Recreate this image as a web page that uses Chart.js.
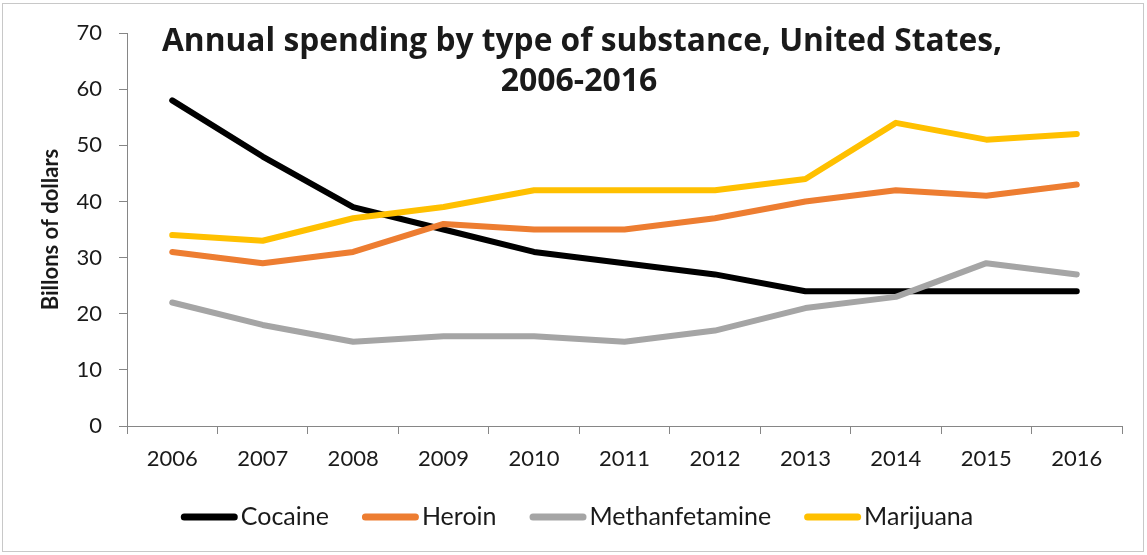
<!DOCTYPE html>
<html>
<head>
<meta charset="utf-8">
<script src="https://cdn.jsdelivr.net/npm/chart.js@4.4.0/dist/chart.umd.min.js"></script>
<style>
  html, body { margin: 0; padding: 0; background: #fff; }
  #wrap { width: 1147px; height: 555px; position: relative; }
</style>
</head>
<body>
<div id="wrap"><canvas id="spendCanvas" width="1147" height="555"></canvas></div>
<script>
// annual spending, billions of dollars
const years = ['2006', '2007', '2008', '2009', '2010', '2011', '2012', '2013', '2014', '2015', '2016'];
const cocaine = [58, 48, 39, 35, 31, 29, 27, 24, 24, 24, 24];
const heroin = [31, 29, 31, 36, 35, 35, 37, 40, 42, 41, 43];
const meth = [22, 18, 15, 16, 16, 15, 17, 21, 23, 29, 27];
const marijuana = [34, 33, 37, 39, 42, 42, 42, 44, 54, 51, 52];

const seriesNames = ['Cocaine', 'Heroin', 'Methanfetamine', 'Marijuana'];
const seriesColors = ['#000000', '#ED7D31', '#A5A5A5', '#FFC000'];
const seriesData = [cocaine, heroin, meth, marijuana];

const titleLines = ['Annual spending by type of substance, United States,', '2006-2016'];
const FONT = 'Lato, Carlito, "Open Sans", sans-serif';
const TITLE_FONT = '"Open Sans", Lato, sans-serif';
const axisColor = '#868686';
const textColor = '#1a1a1a';

// title sits inside the plot area, plus the outer frame
const frameAndTitle = {
  id: 'frameAndTitle',
  afterDraw(chart) {
    const ctx = chart.ctx;
    ctx.save();
    ctx.strokeStyle = '#c8c8c8';
    ctx.lineWidth = 1;
    ctx.strokeRect(2.5, 3.5, 1141, 548);
    ctx.fillStyle = textColor;
    ctx.font = 'bold 32px ' + TITLE_FONT;
    ctx.textAlign = 'center';
    ctx.textBaseline = 'middle';
    ctx.fillText(titleLines[0], 582, 42, 840);
    ctx.fillText(titleLines[1], 579, 82);
    ctx.restore();
  }
};

// legend row under the axis: short thick line + label
const lineLegend = {
  id: 'lineLegend',
  afterDraw(chart) {
    const ctx = chart.ctx;
    const boxW = 57, boxH = 7, gap = 3, itemGap = 33, cy = 517;
    ctx.save();
    ctx.font = '25px ' + FONT;
    ctx.textBaseline = 'middle';
    ctx.textAlign = 'left';
    const widths = seriesNames.map(n => ctx.measureText(n).width);
    const total = widths.reduce((a, w) => a + boxW + gap + w, 0) + itemGap * (seriesNames.length - 1);
    let x = 577 - total / 2;
    seriesNames.forEach((name, i) => {
      ctx.strokeStyle = seriesColors[i];
      ctx.lineWidth = boxH;
      ctx.lineCap = 'round';
      ctx.beginPath();
      ctx.moveTo(x + boxH / 2, cy);
      ctx.lineTo(x + boxW - boxH / 2, cy);
      ctx.stroke();
      x += boxW + gap;
      ctx.fillStyle = textColor;
      ctx.fillText(name, x, cy);
      x += widths[i] + itemGap;
    });
    ctx.restore();
  }
};

const ctxSpend = document.getElementById('spendCanvas').getContext('2d');
new Chart(ctxSpend, {
  type: 'line',
  data: {
    labels: years,
    datasets: seriesNames.map((name, i) => ({
      label: name,
      data: seriesData[i],
      borderColor: seriesColors[i],
      backgroundColor: seriesColors[i],
      borderWidth: 6,
      borderCapStyle: 'round',
      borderJoinStyle: 'round',
      pointRadius: 0,
      tension: 0,
      order: seriesNames.length - i
    }))
  },
  options: {
    responsive: false,
    animation: false,
    layout: { padding: { left: 38, right: 25, top: 33, bottom: 0 } },
    plugins: {
      legend: { display: false },
      title: { display: false },
      tooltip: { enabled: false }
    },
    scales: {
      x: {
        offset: true,
        grid: { offset: true, drawOnChartArea: false, drawTicks: true, tickLength: 8, color: axisColor },
        border: { color: axisColor, width: 1 },
        ticks: { color: textColor, font: { family: FONT, size: 22 }, padding: 12, maxRotation: 0 },
        afterFit(scale) { scale.height = 129; }
      },
      y: {
        min: 0,
        max: 70,
        ticks: { stepSize: 10, color: textColor, font: { family: FONT, size: 22 }, padding: 17 },
        grid: { drawOnChartArea: false, drawTicks: true, tickLength: 8, color: axisColor },
        border: { color: axisColor, width: 1 },
        title: {
          display: true,
          text: 'Billons of dollars',
          color: textColor,
          font: { family: FONT, size: 22, weight: 'bold' },
          padding: { top: 0, bottom: 0 }
        },
        afterFit(scale) { scale.width = 89; }
      }
    }
  },
  plugins: [frameAndTitle, lineLegend]
});
</script>
</body>
</html>
